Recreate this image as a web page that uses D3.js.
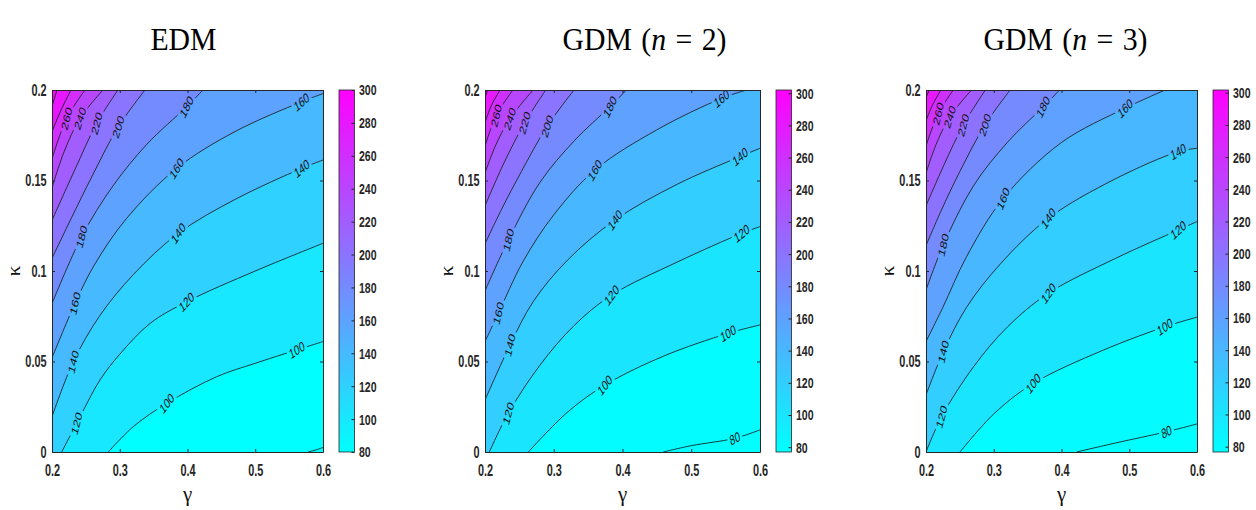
<!DOCTYPE html>
<html>
<head>
<meta charset="utf-8">
<script src="https://cdn.jsdelivr.net/npm/d3@7"></script>
<style>
  body { margin: 0; background: #ffffff; }
  svg { display: block; }
</style>
</head>
<body>
<svg id="chart" width="1256" height="510"></svg>
<script>
// ---- data -------------------------------------------------------------
const contourLevels = [80, 100, 120, 140, 160, 180, 200, 220, 240, 260, 280, 300];
const colorbarTicks = [80, 100, 120, 140, 160, 180, 200, 220, 240, 260, 280, 300];
const gammaTicks = [0.2, 0.3, 0.4, 0.5, 0.6];
const kappaTicks = [0, 0.05, 0.1, 0.15, 0.2];
const gammaDomain = [0.2, 0.6];
const kappaDomain = [0, 0.2];

// colour limits of each panel
const edmRange = [80, 300];
const gdm2Range = [77, 302];
const gdm3Range = [76.7, 301.7];

// contour lines: [level, [[gamma, kappa], ...]] from the top/right edge to the left/bottom edge
const edmLines = [
  [300, [[0.2074, 0.2], [0.2, 0.191]]],
  [280, [[0.228, 0.2], [0.2135, 0.189], [0.2, 0.177]]],
  [260, [[0.2487, 0.2], [0.2217, 0.1843], [0.2, 0.162]]],
  [240, [[0.2753, 0.2], [0.2413, 0.1843], [0.218, 0.166], [0.2, 0.146]]],
  [220, [[0.2974, 0.2], [0.266, 0.1816], [0.235, 0.157], [0.2, 0.128]]],
  [200, [[0.3373, 0.2], [0.2979, 0.1797], [0.26, 0.153], [0.227, 0.128], [0.2, 0.107]]],
  [180, [[0.4229, 0.2], [0.3988, 0.1908], [0.34, 0.17], [0.29, 0.147], [0.2438, 0.119], [0.2, 0.082]]],
  [160, [[0.6, 0.198], [0.5685, 0.1935], [0.47, 0.177], [0.384, 0.1567], [0.31, 0.129], [0.262, 0.103], [0.234, 0.0821], [0.2, 0.052]]],
  [140, [[0.6, 0.1613], [0.5685, 0.1567], [0.47, 0.1395], [0.3864, 0.1208], [0.32, 0.098], [0.27, 0.075], [0.2315, 0.0499], [0.2, 0.0195]]],
  [120, [[0.6, 0.1153], [0.5, 0.1], [0.3988, 0.083], [0.345, 0.0711], [0.3, 0.054], [0.2709, 0.0398], [0.2364, 0.0158], [0.2143, 0]]],
  [100, [[0.6, 0.061], [0.5612, 0.0564], [0.5, 0.049], [0.4431, 0.0416], [0.3693, 0.0269], [0.32, 0.014], [0.2831, 0]]],
  [80, [[0.6, 0.0025], [0.59, 0.0012], [0.578, 0]]]
];
const gdm2Lines = [
  [300, [[0.204, 0.2], [0.2, 0.196]]],
  [280, [[0.222, 0.2], [0.21, 0.192], [0.2, 0.182]]],
  [260, [[0.2405, 0.2], [0.2165, 0.186], [0.2, 0.169]]],
  [240, [[0.27, 0.2], [0.236, 0.184], [0.215, 0.169], [0.2, 0.154]]],
  [220, [[0.2884, 0.2], [0.2577, 0.1818], [0.228, 0.16], [0.2, 0.136]]],
  [200, [[0.3295, 0.2], [0.2905, 0.18], [0.253, 0.155], [0.224, 0.134], [0.2, 0.115]]],
  [180, [[0.4058, 0.2], [0.3818, 0.1908], [0.33, 0.172], [0.28, 0.149], [0.234, 0.1171], [0.2, 0.089]]],
  [160, [[0.5806, 0.2], [0.5442, 0.1954], [0.45, 0.178], [0.36, 0.1558], [0.3, 0.131], [0.255, 0.105], [0.2194, 0.0766], [0.2, 0.061]]],
  [140, [[0.6, 0.1678], [0.5709, 0.1632], [0.48, 0.148], [0.3891, 0.1282], [0.32, 0.106], [0.27, 0.083], [0.2364, 0.0591], [0.2, 0.0287]]],
  [120, [[0.6, 0.1245], [0.5733, 0.1208], [0.48, 0.105], [0.3842, 0.0867], [0.33, 0.07], [0.28, 0.048], [0.2339, 0.0214], [0.2063, 0]]],
  [100, [[0.6, 0.0702], [0.5539, 0.0656], [0.46, 0.053], [0.3745, 0.037], [0.32, 0.022], [0.263, 0]]],
  [80, [[0.6, 0.0122], [0.5636, 0.0076], [0.5, 0.0035], [0.4594, 0]]]
];
const gdm3Lines = [
  [300, [[0.205, 0.2], [0.2, 0.196]]],
  [280, [[0.222, 0.2], [0.21, 0.192], [0.2, 0.183]]],
  [260, [[0.2404, 0.2], [0.2182, 0.1871], [0.2, 0.169]]],
  [240, [[0.2672, 0.2], [0.2354, 0.1853], [0.215, 0.17], [0.2, 0.154]]],
  [220, [[0.2876, 0.2], [0.2551, 0.1807], [0.227, 0.159], [0.2, 0.136]]],
  [200, [[0.3242, 0.2], [0.2871, 0.1807], [0.25, 0.155], [0.222, 0.133], [0.2, 0.114]]],
  [180, [[0.3972, 0.2], [0.3732, 0.1908], [0.32, 0.171], [0.27, 0.147], [0.2256, 0.1144], [0.2, 0.0895]]],
  [160, [[0.553, 0.2], [0.4937, 0.1899], [0.4, 0.171], [0.3141, 0.1401], [0.26, 0.108], [0.225, 0.08], [0.2, 0.061]]],
  [140, [[0.6, 0.1678], [0.5721, 0.1659], [0.48, 0.151], [0.3806, 0.1291], [0.31, 0.104], [0.26, 0.08], [0.2256, 0.0554], [0.2, 0.0315]]],
  [120, [[0.6, 0.1273], [0.5725, 0.1227], [0.48, 0.107], [0.3806, 0.0877], [0.32, 0.069], [0.27, 0.047], [0.2231, 0.0195], [0.2, 0]]],
  [100, [[0.6, 0.0745], [0.5528, 0.0692], [0.46, 0.056], [0.3584, 0.0379], [0.3, 0.021], [0.2502, 0]]],
  [80, [[0.6, 0.0155], [0.5552, 0.0112], [0.48, 0.005], [0.4224, 0]]]
];

// inline contour labels: [level, gamma where the label sits on that line]
const edmLabels = [[260, 0.2217], [240, 0.2413], [220, 0.266], [200, 0.2979], [180, 0.3988], [160, 0.5685],
  [160, 0.384], [140, 0.5685], [180, 0.2438], [140, 0.3864], [160, 0.234], [140, 0.2315],
  [120, 0.3988], [120, 0.2364], [100, 0.5612], [100, 0.3693]];
const gdm2Labels = [[260, 0.2165], [240, 0.236], [220, 0.2577], [200, 0.2905], [180, 0.3818], [160, 0.5442],
  [160, 0.36], [140, 0.5709], [180, 0.234], [140, 0.3891], [120, 0.5733], [160, 0.2194], [140, 0.2364],
  [120, 0.3842], [100, 0.5539], [120, 0.2339], [100, 0.3745], [80, 0.5636]];
const gdm3Labels = [[260, 0.2182], [240, 0.2354], [220, 0.2551], [200, 0.2871], [180, 0.3732], [160, 0.4937],
  [160, 0.3141], [140, 0.3806], [180, 0.2256], [140, 0.5721], [120, 0.5725], [140, 0.2256],
  [120, 0.3806], [100, 0.5528], [120, 0.2231], [100, 0.3584], [80, 0.5552]];

// ---- layout -----------------------------------------------------------
const W = 1256, H = 510;
const PLOT_TOP = 90, PLOT_BOTTOM = 452;
const frames = [
  { x0: 52, x1: 323, cbx: 339, titleShift: -4 },
  { x0: 485, x1: 760, cbx: 776, titleShift: 22 },
  { x0: 926, x1: 1197, cbx: 1213, titleShift: 4 }
];
const CB_W = 15.5;
const SQ = 0.68;            // horizontal squeeze of the glyphs
const AXIS_COLOR = "#262626";
const LINE_COLOR = "#1c1c1c";

const svg = d3.select("#chart");
const defs = svg.append("defs");

// MATLAB "cool" colormap
function cool(t) {
  t = Math.max(0, Math.min(1, t));
  return d3.rgb(Math.round(255 * t), Math.round(255 * (1 - t)), 255).formatHex();
}

function squeezeText(sel) {
  sel.each(function () {
    const t = d3.select(this);
    const x = +t.attr("x") || 0;
    t.attr("x", x / SQ).attr("transform", `scale(${SQ},1)`);
  });
}

function drawPanel(idx, titleParts, lines, labels, range) {
  const f = frames[idx];
  const x = d3.scaleLinear().domain(gammaDomain).range([f.x0, f.x1]);
  const y = d3.scaleLinear().domain(kappaDomain).range([PLOT_BOTTOM, PLOT_TOP]);
  const col = v => cool((v - range[0]) / (range[1] - range[0]));
  const g = svg.append("g").attr("class", "panel");

  const clipId = "clip" + idx;
  defs.append("clipPath").attr("id", clipId)
    .append("rect").attr("x", f.x0).attr("y", PLOT_TOP)
    .attr("width", f.x1 - f.x0).attr("height", PLOT_BOTTOM - PLOT_TOP);

  const plot = g.append("g").attr("clip-path", `url(#${clipId})`);
  plot.append("rect").attr("x", f.x0).attr("y", PLOT_TOP)
    .attr("width", f.x1 - f.x0).attr("height", PLOT_BOTTOM - PLOT_TOP)
    .attr("fill", col(range[0]));

  const line = d3.line().x(d => x(d[0])).y(d => y(d[1])).curve(d3.curveCatmullRom.alpha(0.5));

  // clockwise position along the frame, starting at the top-left corner
  const g0 = gammaDomain[0], g1 = gammaDomain[1], k0 = kappaDomain[0], k1 = kappaDomain[1];
  const eps = 1e-6;
  function edgePos(p) {
    const [gg, kk] = p;
    if (Math.abs(kk - k1) < eps) return (gg - g0) / (g1 - g0);
    if (Math.abs(gg - g1) < eps) return 1 + (k1 - kk) / (k1 - k0);
    if (Math.abs(kk - k0) < eps) return 2 + (g1 - gg) / (g1 - g0);
    return 3 + (kk - k0) / (k1 - k0);
  }
  const cornerPts = { 1: [g1, k1], 2: [g1, k0], 3: [g0, k0], 4: [g0, k1] };

  const sorted = lines.slice().sort((a, b) => a[0] - b[0]);
  // filled bands: paint each superlevel region in ascending order
  sorted.forEach(([lev, pts]) => {
    const sA = edgePos(pts[0]);
    const sB = edgePos(pts[pts.length - 1]);
    const corners = [1, 2, 3, 4].filter(c => c > sB + eps)
      .concat([1, 2, 3].filter(c => c < sA - eps));
    const d = line(pts) + corners.map(c => `L${x(cornerPts[c][0])},${y(cornerPts[c][1])}`).join("") + "Z";
    plot.append("path").attr("d", d).attr("fill", col(lev)).attr("stroke", "none");
  });

  // contour lines, with gaps cut where the labels sit
  const maskId = "mask" + idx;
  const mask = defs.append("mask").attr("id", maskId).attr("maskUnits", "userSpaceOnUse")
    .attr("x", 0).attr("y", 0).attr("width", W).attr("height", H);
  mask.append("rect").attr("x", 0).attr("y", 0).attr("width", W).attr("height", H).attr("fill", "white");

  const lineG = plot.append("g").attr("mask", `url(#${maskId})`);
  const pathByLevel = {};
  sorted.forEach(([lev, pts]) => {
    pathByLevel[lev] = lineG.append("path").attr("d", line(pts))
      .attr("fill", "none").attr("stroke", LINE_COLOR).attr("stroke-width", 0.85).node();
  });

  const labelG = plot.append("g");
  labels.forEach(([lev, gx]) => {
    const p = pathByLevel[lev];
    const L = p.getTotalLength();
    const tx = x(gx);
    let best = 0, bd = Infinity;
    for (let l = 0; l <= L; l += 0.5) {
      const q = p.getPointAtLength(l);
      const dd = Math.abs(q.x - tx);
      if (dd < bd) { bd = dd; best = l; }
    }
    const q = p.getPointAtLength(best);
    const a = p.getPointAtLength(Math.max(0, best - 4));
    const b = p.getPointAtLength(Math.min(L, best + 4));
    let dx = b.x - a.x, dy = b.y - a.y;
    if (dx < 0) { dx = -dx; dy = -dy; }
    // angle before the horizontal squeeze so that the label follows the line afterwards
    const ang = Math.atan2(dy, dx * SQ) * 180 / Math.PI;
    const tf = `translate(${q.x},${q.y}) scale(${SQ},1) rotate(${ang})`;
    const t = labelG.append("text").attr("transform", tf)
      .attr("text-anchor", "middle").attr("dy", "0.36em")
      .attr("font-family", "'Liberation Sans', Arial, sans-serif")
      .attr("font-size", 14).attr("fill", "#111").text(lev);
    const w = t.node().getComputedTextLength();
    mask.append("rect").attr("transform", tf)
      .attr("x", -w / 2 - 3).attr("y", -6).attr("width", w + 6).attr("height", 12).attr("fill", "black");
  });

  // frame and ticks
  const axisFont = "'Liberation Sans', Arial, sans-serif";
  const fmt = d => String(d);
  const bottomAxis = g.append("g").attr("transform", `translate(0,${PLOT_BOTTOM})`)
    .call(d3.axisBottom(x).tickValues(gammaTicks).tickSize(-3).tickSizeOuter(0).tickPadding(13).tickFormat(fmt));
  const leftAxis = g.append("g").attr("transform", `translate(${f.x0},0)`)
    .call(d3.axisLeft(y).tickValues(kappaTicks).tickSize(-3).tickSizeOuter(0).tickPadding(5.5).tickFormat(fmt));
  const topAxis = g.append("g").attr("transform", `translate(0,${PLOT_TOP})`)
    .call(d3.axisTop(x).tickValues(gammaTicks).tickSize(-3).tickSizeOuter(0).tickFormat(""));
  const rightAxis = g.append("g").attr("transform", `translate(${f.x1},0)`)
    .call(d3.axisRight(y).tickValues(kappaTicks).tickSize(-3).tickSizeOuter(0).tickFormat(""));
  [bottomAxis, leftAxis, topAxis, rightAxis].forEach(a => {
    a.select(".domain").attr("stroke", AXIS_COLOR).attr("stroke-width", 1);
    a.selectAll(".tick line").attr("stroke", AXIS_COLOR).attr("stroke-width", 1);
    a.selectAll("text").attr("font-family", axisFont).attr("font-weight", "bold")
      .attr("font-size", 16).attr("fill", AXIS_COLOR);
  });
  bottomAxis.selectAll("text").attr("dy", "0.71em");
  squeezeText(bottomAxis.selectAll("text"));
  squeezeText(leftAxis.selectAll("text"));

  // axis titles
  g.append("text")
    .attr("transform", `translate(${(f.x0 + f.x1) / 2},${501}) scale(0.95,1)`)
    .attr("text-anchor", "middle")
    .attr("font-family", "'Liberation Serif', 'Times New Roman', serif")
    .attr("font-size", 22).attr("fill", "#111").text("γ");
  g.append("text")
    .attr("transform", `translate(${f.x0 - 32},${(PLOT_TOP + PLOT_BOTTOM) / 2}) scale(0.9,1) rotate(-90)`)
    .attr("text-anchor", "middle")
    .attr("font-family", "'Liberation Serif', 'Times New Roman', serif")
    .attr("font-size", 21).attr("fill", "#111").text("κ");

  // panel title
  const title = g.append("text")
    .attr("transform", `translate(${(f.x0 + f.x1) / 2 + f.titleShift},50) scale(0.96,1)`)
    .attr("text-anchor", "middle")
    .attr("font-family", "'Liberation Serif', 'Times New Roman', serif")
    .attr("font-size", 31).attr("word-spacing", 2).attr("fill", "#000");
  titleParts.forEach(([txt, italic]) => {
    title.append("tspan").attr("font-style", italic ? "italic" : "normal").text(txt);
  });

  // colour bar
  const gradId = "grad" + idx;
  const grad = defs.append("linearGradient").attr("id", gradId)
    .attr("x1", 0).attr("y1", 1).attr("x2", 0).attr("y2", 0);
  grad.append("stop").attr("offset", 0).attr("stop-color", cool(0));
  grad.append("stop").attr("offset", 1).attr("stop-color", cool(1));
  g.append("rect").attr("x", f.cbx).attr("y", PLOT_TOP).attr("width", CB_W)
    .attr("height", PLOT_BOTTOM - PLOT_TOP).attr("fill", `url(#${gradId})`)
    .attr("stroke", AXIS_COLOR).attr("stroke-width", 0.8);
  const cScale = d3.scaleLinear().domain(range).range([PLOT_BOTTOM, PLOT_TOP]);
  const cbAxis = g.append("g").attr("transform", `translate(${f.cbx + CB_W},0)`)
    .call(d3.axisRight(cScale).tickValues(colorbarTicks).tickSize(-3).tickSizeOuter(0).tickPadding(4.5));
  cbAxis.select(".domain").remove();
  cbAxis.selectAll(".tick line").attr("stroke", AXIS_COLOR);
  cbAxis.selectAll("text").attr("font-family", axisFont).attr("font-weight", "bold")
    .attr("font-size", 15.5).attr("fill", AXIS_COLOR);
  squeezeText(cbAxis.selectAll("text"));
}

drawPanel(0, [["EDM", false]], edmLines, edmLabels, edmRange);
drawPanel(1, [["GDM (", false], ["n", true], [" = 2)", false]], gdm2Lines, gdm2Labels, gdm2Range);
drawPanel(2, [["GDM (", false], ["n", true], [" = 3)", false]], gdm3Lines, gdm3Labels, gdm3Range);
</script>
</body>
</html>
